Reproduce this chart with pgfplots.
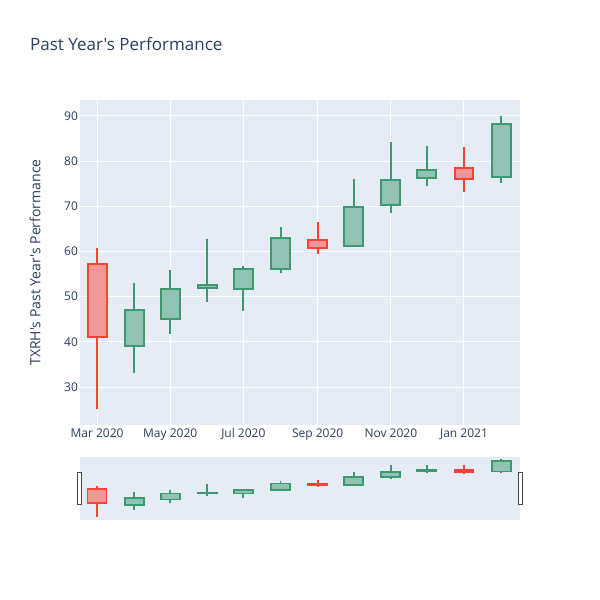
\documentclass[border=0pt]{standalone}
\usepackage{fontspec}
\setmainfont{Open Sans}[Ligatures=TeXOff]
\usepackage{pgfplots}
\pgfplotsset{compat=1.18}
\usepgfplotslibrary{statistics}

\definecolor{bgc}{HTML}{E5ECF6}
\definecolor{txt}{HTML}{2A3F5F}
\definecolor{incl}{HTML}{3D9970}
\definecolor{incf}{HTML}{91C2B3}
\definecolor{decl}{HTML}{FF4136}
\definecolor{decf}{HTML}{F29696}

\pgfplotsset{
  inc/.style={draw=incl, fill=incf},
  dec/.style={draw=decl, fill=decf},
  panel/.style={
    scale only axis, width=440pt,
    axis background/.style={fill=bgc},
    axis line style={draw=none},
    major tick length=0pt,
    xmin=-14.2, xmax=352.7,
    boxplot/draw direction=y,
    boxplot/box extend=15.8,
    boxplot/whisker extend=0,
    tick label style={font=\fontsize{12}{14}\selectfont, text=txt},
    /pgf/number format/assume math mode=true,
  },
}

% style, day (from 1 Mar 2020), low, body bottom, body top, high
\newcommand\candle[6]{\addplot[#1, boxplot prepared={draw position=#2,
  lower whisker=#3, lower quartile=#4, median=#4,
  upper quartile=#5, upper whisker=#6}] coordinates {};}
\newcommand\allcandles{%
  \candle{dec}{0}{25.1}{41.1}{57.2}{60.7}
  \candle{inc}{31}{33.2}{39.1}{47.0}{53.1}
  \candle{inc}{61}{41.7}{45.1}{51.7}{55.9}
  \candle{inc}{92}{48.8}{51.9}{52.5}{62.8}
  \candle{inc}{122}{46.8}{51.7}{56.1}{56.8}
  \candle{inc}{153}{55.2}{56.1}{62.9}{65.4}
  \candle{dec}{184}{59.4}{60.7}{62.5}{66.5}
  \candle{inc}{214}{61.0}{61.2}{69.9}{76.1}
  \candle{inc}{245}{68.5}{70.3}{75.7}{84.2}
  \candle{inc}{275}{74.5}{76.3}{78.1}{83.4}
  \candle{dec}{306}{73.2}{76.1}{78.4}{83.1}
  \candle{inc}{337}{75.1}{76.4}{88.2}{90.0}
}

\begin{document}
\begin{tikzpicture}
\fill[white] (0pt,0pt) rectangle (600pt,600pt);
\path[use as bounding box] (0pt,0pt) rectangle (600pt,600pt);

\node[anchor=west, inner sep=0pt, text=txt, font=\fontsize{17}{20}\selectfont] at (30pt,556pt) {Past Year's Performance};

\begin{axis}[panel, at={(80pt,175pt)}, anchor=south west, height=325pt,
  ymin=21.6, ymax=93.5, ytick={30,40,...,90},
  xtick={0,61,122,184,245,306},
  xticklabels={Mar 2020,May 2020,Jul 2020,Sep 2020,Nov 2020,Jan 2021},
  yticklabel style={xshift=1.5pt},
  grid=major, grid style={white, line width=1pt},
  every axis plot/.append style={line width=2pt},
]
\allcandles
\end{axis}

\node[rotate=90, text=txt, font=\fontsize{14}{16}\selectfont] at (35pt,337.5pt) {TXRH's Past Year's Performance};

\begin{axis}[panel, at={(80pt,80pt)}, anchor=south west, height=63pt,
  ymin=22.2, ymax=92.6, xtick=\empty, ytick=\empty,
  every axis plot/.append style={line width=1.8pt},
]
\allcandles
\end{axis}

\draw[draw=black!70, fill=white, line width=1pt] (77.5pt,95pt) rectangle (81.5pt,127pt);
\draw[draw=black!70, fill=white, line width=1pt] (518.5pt,95pt) rectangle (522.5pt,127pt);
\end{tikzpicture}
\end{document}
